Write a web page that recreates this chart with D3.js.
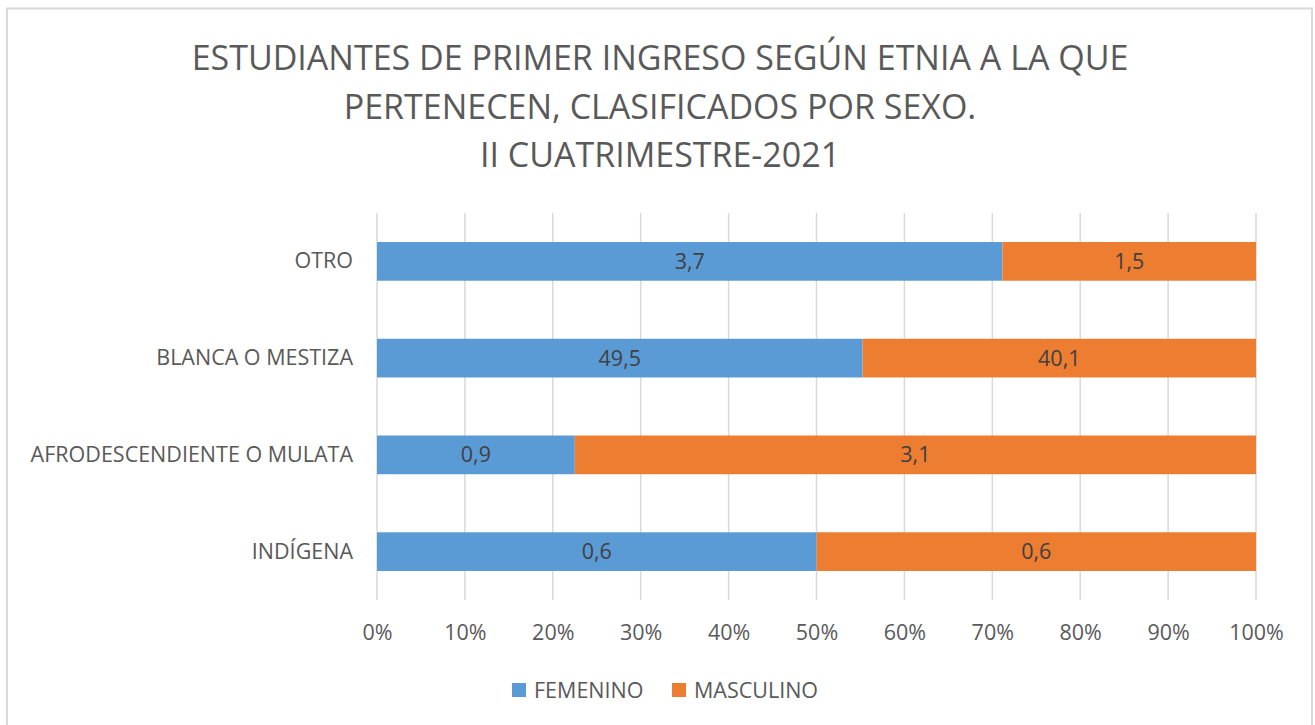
<!DOCTYPE html>
<meta charset="utf-8">
<style>
body { margin: 0; background: #fff; }
text { font-family: "Open Sans", sans-serif; }
</style>
<svg width="1315" height="725"></svg>
<script src="https://d3js.org/d3.v7.min.js"></script>
<script>
"use strict";

// data
var categories = ["OTRO", "BLANCA O MESTIZA", "AFRODESCENDIENTE O MULATA", "INDÍGENA"];
var femenino = [3.7, 49.5, 0.9, 0.6];
var masculino = [1.5, 40.1, 3.1, 0.6];
var seriesNames = ["FEMENINO", "MASCULINO"];
var xTicks = [0, 0.1, 0.2, 0.3, 0.4, 0.5, 0.6, 0.7, 0.8, 0.9, 1];
var titleLines = ["ESTUDIANTES DE PRIMER INGRESO SEGÚN ETNIA A LA QUE",
                  "PERTENECEN, CLASIFICADOS POR SEXO.",
                  "II CUATRIMESTRE-2021"];

var colors = ["#5B9BD5", "#ED7D31"];
var labelSize = 21.5;

var svg = d3.select("svg");

// frame
svg.append("rect")
    .attr("x", 7).attr("y", 8.5)
    .attr("width", 1305).attr("height", 730)
    .attr("fill", "#fff")
    .attr("stroke", "#d9d9d9")
    .attr("stroke-width", 2);

// title
svg.append("g").selectAll("text")
  .data(titleLines)
  .enter().append("text")
    .attr("x", 660)
    .attr("y", function(d, i) { return 70 + i * 48.5; })
    .attr("text-anchor", "middle")
    .attr("font-size", 34)
    .attr("fill", "#595959")
    .text(function(d) { return d; });

var x = d3.scaleLinear().domain([0, 1]).range([377, 1256]);
var y = d3.scaleBand().domain(categories).range([213, 600])
    .paddingInner(0.6).paddingOuter(0.3);

// gridlines
svg.append("g").selectAll("line")
  .data(xTicks)
  .enter().append("line")
    .attr("x1", function(d) { return x(d); })
    .attr("x2", function(d) { return x(d); })
    .attr("y1", 213).attr("y2", 600)
    .attr("stroke", "#d9d9d9")
    .attr("stroke-width", 1.5);

// x axis labels
var xAxis = svg.append("g")
    .attr("transform", "translate(0,600)")
    .call(d3.axisBottom(x).tickValues(xTicks).tickFormat(d3.format(".0%")).tickSize(0).tickPadding(25));
xAxis.select(".domain").remove();
xAxis.selectAll("text")
    .attr("font-family", "Open Sans, sans-serif")
    .attr("font-size", labelSize)
    .attr("fill", "#595959");

// y axis labels
var yAxis = svg.append("g")
    .attr("transform", "translate(377,0)")
    .call(d3.axisLeft(y).tickSize(0).tickPadding(24));
yAxis.select(".domain").remove();
yAxis.selectAll("text")
    .attr("font-family", "Open Sans, sans-serif")
    .attr("font-size", labelSize)
    .attr("fill", "#595959");

// stacked percentages
var rows = categories.map(function(c, i) {
  return { cat: c, FEMENINO: femenino[i], MASCULINO: masculino[i] };
});
var stack = d3.stack().keys(seriesNames).offset(d3.stackOffsetExpand);
var layers = stack(rows);

var layer = svg.append("g").selectAll("g")
  .data(layers)
  .enter().append("g")
    .attr("fill", function(d, i) { return colors[i]; });

layer.selectAll("rect")
  .data(function(d) { return d; })
  .enter().append("rect")
    .attr("x", function(d) { return x(d[0]); })
    .attr("y", function(d) { return y(d.data.cat); })
    .attr("width", function(d) { return x(d[1]) - x(d[0]); })
    .attr("height", y.bandwidth());

var fmt = function(v) { return v.toFixed(1).replace(".", ","); };

layers.forEach(function(l) {
  svg.append("g").selectAll("text")
    .data(l)
    .enter().append("text")
      .attr("x", function(d) { return (x(d[0]) + x(d[1])) / 2; })
      .attr("y", function(d) { return y(d.data.cat) + y.bandwidth() / 2; })
      .attr("dy", "0.35em")
      .attr("text-anchor", "middle")
      .attr("font-size", labelSize)
      .attr("fill", "#404040")
      .text(function(d) { return fmt(d.data[l.key]); });
});

// legend
var legend = svg.append("g").selectAll("g")
  .data(seriesNames)
  .enter().append("g")
    .attr("transform", function(d, i) { return "translate(" + [512, 672][i] + ",683)"; });
legend.append("rect")
    .attr("width", 14).attr("height", 14)
    .attr("fill", function(d, i) { return colors[i]; });
legend.append("text")
    .attr("x", 22).attr("y", 7)
    .attr("dy", "0.35em")
    .attr("font-size", labelSize)
    .attr("fill", "#595959")
    .text(function(d) { return d; });
</script>
